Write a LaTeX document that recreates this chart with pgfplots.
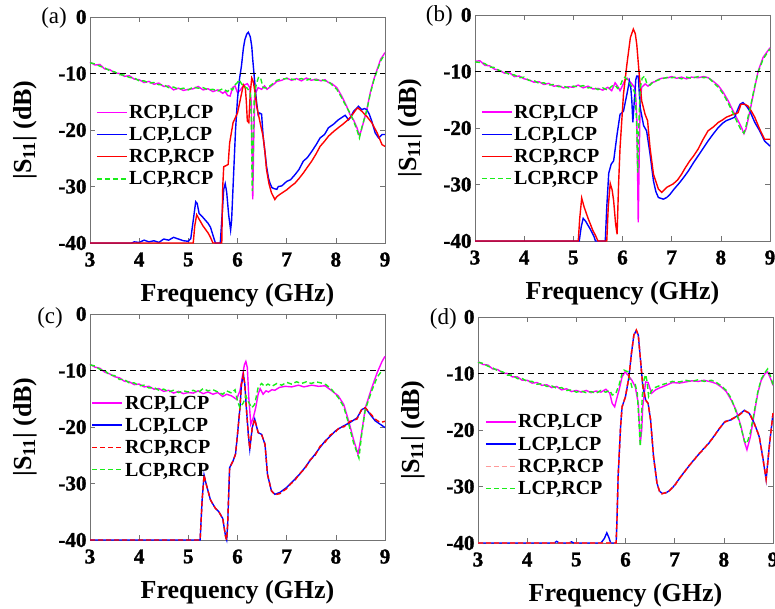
\documentclass[border=0pt]{standalone}
\usepackage{fontspec}
\setmainfont{Liberation Serif}
\newfontfamily\tickbf{Liberation Serif}[FakeBold=1.5]
\usepackage{pgfplots}
\pgfplotsset{compat=1.18}
\definecolor{mygreen}{rgb}{0.1,0.93,0.1}
\definecolor{mymag}{rgb}{1,0,1}
\newcommand{\tk}[1]{{\tickbf\bfseries\fontsize{21}{21}\selectfont #1}}
\tikzset{
 plab/.style={anchor=base east, font=\fontsize{23}{23}\selectfont, inner sep=0pt},
 mag/.style={mymag, line width=1.4pt},
 blu/.style={blue, line width=1.4pt},
 rd/.style={red, line width=1.4pt},
 rdd/.style={red, line width=1.4pt, dash pattern=on 5pt off 3pt},
 rdl/.style={red!40, line width=1.4pt, dash pattern=on 5pt off 3pt},
 grn/.style={mygreen, line width=1.4pt, dash pattern=on 5pt off 3pt},
 refl/.style={black, line width=1.2pt, dash pattern=on 6pt off 4pt},
 legtxt/.style={anchor=west, inner sep=0pt, font=\bfseries\fontsize{20}{20}\selectfont, text height=13.3pt, text depth=0pt},
}
\pgfplotsset{
 panel/.style={
  scale only axis, width=295pt, height=226pt,
  xmin=3,xmax=9,ymin=-40,ymax=0,
  xtick={3,4,5,6,7,8,9},
  xticklabels={\tk{3},\tk{4},\tk{5},\tk{6},\tk{7},\tk{8},\tk{9}},
  ytick={-40,-30,-20,-10,0},
  yticklabels={\tk{-40},\tk{-30},\tk{-20},\tk{-10},\tk{0}},
  tick align=inside, major tick length=5pt,
  axis line style={black!55, line width=0.6pt},
  every tick/.style={black!55, line width=0.6pt},
  ticklabel style={font=\bfseries\fontsize{21}{21}\selectfont},
  xticklabel style={yshift=-6pt},
  xlabel={Frequency (GHz)},
  ylabel={|S\textsubscript{11}| (dB)},
  label style={font=\bfseries\fontsize{26}{26}\selectfont},
  xlabel style={at={(axis description cs:0.5,-0.257)}, anchor=base},
  ylabel style={at={(axis description cs:-0.22,0.5)}, anchor=center},
  clip=false,
  legend cell align=left,
  legend style={draw=none, fill=none, anchor=north west, inner xsep=0pt, inner ysep=0pt, row sep=0pt, column sep=0pt,
    font=\bfseries\fontsize{20}{20}\selectfont,
    nodes={inner xsep=1.5pt, inner ysep=2.1pt, text height=15pt, text depth=3pt}},
  legend image code/.code={\draw[#1] (0pt,0pt) -- (30pt,0pt);},
 },
}
\begin{document}
\begin{tikzpicture}
% ---------------- (a)
\begin{axis}[panel, at={(90pt,366pt)}, anchor=south west,
  legend style={at={(axis description cs:0.02,0.628)}}]
\addplot[mag] coordinates {(3.0,-8.0) (3.1,-8.5) (3.2,-8.4) (3.3,-9.2) (3.4,-9.3) (3.5,-9.9) (3.6,-10.0) (3.7,-10.5) (3.8,-10.4) (3.9,-11.0) (4.0,-11.1) (4.1,-11.6) (4.2,-11.4) (4.3,-11.9) (4.4,-11.7) (4.5,-12.3) (4.6,-12.2) (4.7,-12.9) (4.8,-12.6) (4.9,-13.0) (5.0,-12.8) (5.1,-12.7) (5.2,-12.3) (5.3,-12.9) (5.4,-12.7) (5.5,-13.2) (5.6,-12.9) (5.7,-13.5) (5.75,-13.2) (5.8,-13.9) (5.85,-14.0) (5.9,-12.5) (5.95,-12.2) (6.0,-13.4) (6.05,-13.0) (6.1,-12.4) (6.15,-12.0) (6.2,-11.8) (6.25,-12.5) (6.28,-15.0) (6.30,-25) (6.31,-32.3) (6.33,-22) (6.35,-14.5) (6.37,-13.4) (6.42,-12.5) (6.49,-12.8) (6.55,-12.2) (6.6,-12.8) (6.69,-12.2) (6.75,-11.8) (6.8,-11.4) (6.9,-11.2) (7.0,-10.8) (7.1,-11.2) (7.2,-10.9) (7.3,-11.3) (7.4,-10.8) (7.5,-11.2) (7.6,-11.0) (7.7,-11.3) (7.78,-11.1) (7.85,-11.6) (7.92,-11.8) (8.02,-12.5) (8.12,-14.0) (8.22,-15.8) (8.29,-17.3) (8.36,-18.2) (8.43,-19.6) (8.48,-21.0) (8.52,-20.0) (8.56,-18.7) (8.63,-16.4) (8.7,-13.4) (8.77,-11.1) (8.84,-9.3) (8.91,-7.5) (9.0,-6.3)};
\addlegendentry{RCP,LCP}
\addplot[blu] coordinates {(3.0,-40) (3.85,-40) (3.9,-39.8) (4.0,-39.9) (4.1,-39.5) (4.2,-39.8) (4.3,-39.6) (4.4,-39.9) (4.5,-39.3) (4.6,-39.5) (4.7,-39.0) (4.8,-39.3) (4.9,-39.6) (5.0,-39.7) (5.05,-39.2) (5.1,-36) (5.15,-32.7) (5.18,-33) (5.22,-34.8) (5.3,-35.5) (5.4,-36.5) (5.45,-37.2) (5.5,-38.6) (5.55,-40) (5.65,-40) (5.68,-36) (5.72,-30.5) (5.75,-29.5) (5.78,-31) (5.82,-35) (5.86,-37.7) (5.88,-36) (5.92,-28) (5.96,-20) (6.0,-14.5) (6.04,-11) (6.08,-8.7) (6.12,-5.5) (6.15,-4.0) (6.19,-3.0) (6.22,-2.7) (6.26,-3.5) (6.29,-5.2) (6.31,-7.5) (6.34,-10.5) (6.37,-13.5) (6.39,-15.2) (6.42,-17.3) (6.45,-17.0) (6.49,-17.2) (6.52,-21) (6.56,-24) (6.59,-26.4) (6.63,-28.5) (6.66,-29.4) (6.7,-30.2) (6.75,-30.4) (6.8,-30.5) (6.83,-30.0) (6.9,-29.9) (7.0,-29.1) (7.08,-28.8) (7.17,-27.9) (7.25,-27.0) (7.34,-25.5) (7.42,-24.9) (7.51,-23.8) (7.6,-22.6) (7.68,-21.4) (7.77,-20.8) (7.85,-19.6) (7.95,-19.0) (8.05,-18.2) (8.12,-17.8) (8.19,-17.4) (8.26,-18.2) (8.31,-17.6) (8.36,-16.7) (8.42,-16.2) (8.46,-15.8) (8.53,-16.4) (8.58,-16.2) (8.63,-16.4) (8.68,-17.2) (8.73,-18.4) (8.8,-20.5) (8.87,-21.4) (8.94,-20.8) (9.0,-20.8)};
\addlegendentry{LCP,LCP}
\addplot[rd] coordinates {(3.0,-40) (5.1,-40) (5.13,-37) (5.17,-35.0) (5.22,-35.8) (5.3,-37.0) (5.4,-38.2) (5.45,-39.0) (5.5,-40) (5.68,-40) (5.70,-30) (5.72,-26.5) (5.77,-26.3) (5.81,-26.1) (5.84,-22.3) (5.91,-18.7) (6.0,-17.0) (6.05,-14.9) (6.12,-12.0) (6.16,-12.6) (6.18,-15) (6.2,-18.4) (6.23,-18.7) (6.26,-13.4) (6.29,-10.8) (6.32,-11.4) (6.36,-13.5) (6.39,-15.8) (6.46,-18.7) (6.52,-21.1) (6.56,-24) (6.59,-27.0) (6.64,-29.5) (6.69,-31.1) (6.76,-32.3) (6.8,-31.8) (6.86,-31.4) (6.93,-31.0) (7.0,-30.6) (7.08,-30.0) (7.17,-29.4) (7.25,-28.6) (7.34,-27.6) (7.42,-26.6) (7.51,-25.5) (7.6,-24.2) (7.68,-22.9) (7.77,-22.0) (7.85,-21.1) (7.95,-20.3) (8.05,-19.6) (8.14,-19.0) (8.22,-18.4) (8.3,-17.7) (8.36,-17.0) (8.42,-16.3) (8.45,-16.1) (8.53,-16.7) (8.63,-17.6) (8.73,-18.7) (8.84,-20.5) (8.94,-22.6) (9.0,-22.9)};
\addlegendentry{RCP,RCP}
\addplot[grn] coordinates {(3.0,-8.1) (3.1,-8.3) (3.2,-8.7) (3.3,-9.0) (3.4,-9.5) (3.5,-9.7) (3.6,-10.2) (3.7,-10.3) (3.8,-10.7) (3.9,-10.8) (4.0,-11.3) (4.1,-11.3) (4.2,-11.7) (4.3,-11.6) (4.4,-12.0) (4.5,-12.0) (4.6,-12.5) (4.7,-12.4) (4.8,-12.8) (4.9,-12.6) (5.0,-12.9) (5.1,-12.4) (5.2,-12.6) (5.3,-12.5) (5.4,-12.9) (5.5,-12.8) (5.6,-13.1) (5.7,-12.7) (5.8,-13.2) (5.85,-12.6) (5.9,-12.9) (5.95,-12.0) (6.0,-11.6) (6.03,-11.1) (6.08,-11.8) (6.12,-12.2) (6.2,-12.6) (6.26,-13.5) (6.28,-18) (6.30,-30.8) (6.32,-22) (6.34,-14.5) (6.38,-12.0) (6.43,-10.6) (6.47,-10.8) (6.52,-12.5) (6.6,-12.6) (6.69,-12.0) (6.75,-11.6) (6.8,-11.2) (6.9,-11.0) (7.0,-10.9) (7.1,-11.0) (7.2,-11.1) (7.3,-10.9) (7.4,-11.2) (7.5,-10.9) (7.6,-11.2) (7.7,-11.1) (7.78,-11.3) (7.85,-11.4) (7.92,-12.0) (8.02,-12.8) (8.12,-14.3) (8.22,-16.0) (8.29,-17.0) (8.36,-18.4) (8.43,-20.0) (8.48,-21.4) (8.53,-19.5) (8.58,-18.0) (8.63,-16.5) (8.7,-13.6) (8.77,-11.3) (8.84,-9.5) (8.91,-7.8) (9.0,-6.5)};
\addlegendentry{LCP,RCP}
\addplot[refl, forget plot] coordinates {(3,-10) (9,-10)};
\node[plab] at (rel axis cs:0,1) [xshift=-23pt, yshift=-7pt] {(a)};
\end{axis}
% ---------------- (b)
\begin{axis}[panel, at={(475pt,368pt)}, anchor=south west,
  legend style={at={(axis description cs:0.02,0.62)}}]
\addplot[mag] coordinates {(3.0,-8.2) (3.1,-8.1) (3.2,-8.9) (3.3,-9.0) (3.4,-9.6) (3.5,-9.8) (3.6,-10.3) (3.7,-10.2) (3.8,-10.9) (3.9,-10.8) (4.0,-11.3) (4.1,-11.5) (4.2,-11.9) (4.3,-11.8) (4.4,-12.3) (4.5,-12.1) (4.6,-12.6) (4.7,-12.5) (4.8,-12.9) (4.9,-12.7) (5.0,-12.8) (5.1,-12.4) (5.2,-12.9) (5.3,-12.6) (5.4,-13.1) (5.5,-13.0) (5.6,-13.3) (5.7,-12.8) (5.78,-13.4) (5.85,-12.0) (5.9,-12.6) (5.95,-13.4) (6.0,-12.5) (6.05,-11.5) (6.1,-11.2) (6.15,-11.8) (6.2,-12.3) (6.26,-13.0) (6.29,-18) (6.31,-30) (6.32,-36.7) (6.34,-25) (6.36,-15) (6.39,-12.8) (6.46,-12.2) (6.52,-12.6) (6.59,-12.0) (6.66,-11.8) (6.73,-11.4) (6.8,-11.2) (6.93,-11.1) (7.0,-10.9) (7.1,-11.2) (7.2,-11.0) (7.3,-11.3) (7.4,-11.0) (7.54,-11.1) (7.65,-10.9) (7.74,-11.1) (7.84,-11.7) (7.95,-12.5) (8.05,-13.7) (8.15,-15.2) (8.25,-17.0) (8.35,-18.7) (8.42,-19.9) (8.47,-21.0) (8.51,-20.2) (8.55,-18.7) (8.62,-15.8) (8.69,-12.8) (8.76,-9.9) (8.86,-7.5) (9.0,-5.8)};
\addlegendentry{RCP,LCP}
\addplot[blu] coordinates {(3.0,-40) (5.12,-40) (5.16,-37.5) (5.2,-36.0) (5.25,-36.5) (5.35,-38.0) (5.42,-39.2) (5.45,-40) (5.65,-40) (5.68,-34) (5.72,-28) (5.77,-26.4) (5.82,-25.8) (5.89,-21.1) (5.95,-17.6) (6.02,-17.0) (6.09,-14.0) (6.14,-11.7) (6.17,-13.0) (6.19,-15.2) (6.21,-19.0) (6.24,-15.2) (6.27,-11.5) (6.29,-10.8) (6.32,-10.8) (6.36,-16.4) (6.43,-19.6) (6.49,-20.5) (6.56,-24.6) (6.63,-29.4) (6.68,-31.3) (6.73,-32.3) (6.83,-32.6) (6.9,-32.3) (6.97,-31.7) (7.05,-30.8) (7.14,-29.9) (7.24,-28.8) (7.34,-27.6) (7.44,-26.2) (7.54,-24.9) (7.64,-23.6) (7.74,-22.3) (7.85,-21.0) (7.95,-19.9) (8.03,-19.2) (8.11,-18.7) (8.2,-18.4) (8.28,-18.1) (8.34,-16.8) (8.39,-15.8) (8.45,-15.5) (8.52,-16.1) (8.59,-17.0) (8.69,-19.0) (8.79,-20.5) (8.89,-22.3) (9.0,-23.2)};
\addlegendentry{LCP,LCP}
\addplot[rd] coordinates {(3.0,-40) (5.1,-40) (5.13,-36) (5.17,-32.4) (5.22,-34) (5.3,-36.0) (5.4,-38.2) (5.45,-39.0) (5.5,-40) (5.68,-40) (5.71,-34) (5.75,-29.8) (5.79,-31) (5.82,-32.9) (5.86,-37) (5.89,-38.8) (5.92,-30) (5.95,-23.5) (6.02,-14.0) (6.09,-8.7) (6.16,-4.0) (6.22,-2.5) (6.26,-3.3) (6.29,-5.2) (6.34,-10.5) (6.39,-15.2) (6.46,-17.6) (6.51,-18.7) (6.56,-23.5) (6.63,-28.2) (6.73,-30.8) (6.8,-31.4) (6.9,-30.5) (7.03,-29.9) (7.12,-29.2) (7.2,-28.2) (7.28,-27.0) (7.37,-25.8) (7.45,-24.9) (7.54,-23.7) (7.64,-22.0) (7.74,-20.5) (7.85,-19.8) (7.95,-19.0) (8.03,-18.6) (8.11,-18.1) (8.25,-17.6) (8.35,-17.3) (8.41,-15.8) (8.49,-15.8) (8.55,-16.1) (8.62,-17.0) (8.69,-18.1) (8.79,-20.2) (8.89,-22.0) (9.0,-22.0)};
\addlegendentry{RCP,RCP}
\addplot[grn] coordinates {(3.0,-8.3) (3.1,-8.4) (3.2,-8.6) (3.3,-9.2) (3.4,-9.3) (3.5,-9.9) (3.6,-10.1) (3.7,-10.5) (3.8,-10.6) (3.9,-11.1) (4.0,-11.0) (4.1,-11.6) (4.2,-11.6) (4.3,-12.1) (4.4,-12.0) (4.5,-12.4) (4.6,-12.3) (4.7,-12.7) (4.8,-12.6) (4.9,-12.9) (5.0,-12.6) (5.1,-12.7) (5.2,-12.5) (5.3,-12.9) (5.4,-12.8) (5.5,-13.2) (5.6,-12.9) (5.7,-13.3) (5.78,-12.6) (5.85,-12.4) (5.9,-13.0) (5.95,-12.6) (6.0,-11.5) (6.05,-11.0) (6.1,-11.5) (6.15,-12.2) (6.2,-12.8) (6.26,-14) (6.29,-20) (6.31,-27.9) (6.33,-20) (6.36,-13) (6.4,-11.2) (6.45,-10.8) (6.5,-12.3) (6.56,-12.4) (6.62,-11.9) (6.7,-11.6) (6.8,-11.3) (6.93,-11.0) (7.0,-11.1) (7.1,-11.0) (7.2,-11.3) (7.3,-11.0) (7.4,-11.2) (7.54,-10.9) (7.65,-11.1) (7.74,-11.0) (7.84,-11.9) (7.95,-12.8) (8.05,-14.0) (8.15,-15.6) (8.25,-17.4) (8.35,-19.3) (8.42,-20.5) (8.47,-20.9) (8.51,-19.8) (8.55,-18.2) (8.62,-15.5) (8.69,-12.6) (8.76,-10.1) (8.86,-7.8) (9.0,-6.0)};
\addlegendentry{LCP,RCP}
\addplot[refl, forget plot] coordinates {(3,-10) (9,-10)};
\node[plab] at (rel axis cs:0,1) [xshift=-22pt, yshift=-7pt] {(b)};
\end{axis}
% ---------------- (c)
\begin{axis}[panel, at={(90pt,69pt)}, anchor=south west]
\addplot[mag] coordinates {(3.0,-8.9) (3.1,-9.4) (3.2,-9.6) (3.3,-10.3) (3.4,-10.6) (3.5,-11.1) (3.6,-11.3) (3.7,-11.9) (3.8,-12.0) (3.9,-12.5) (4.0,-12.4) (4.1,-12.9) (4.2,-12.8) (4.3,-13.3) (4.4,-13.2) (4.5,-13.7) (4.6,-13.5) (4.7,-14.0) (4.8,-13.7) (4.9,-14.1) (5.0,-13.9) (5.1,-14.0) (5.2,-13.6) (5.3,-14.1) (5.4,-13.8) (5.5,-14.2) (5.6,-13.9) (5.7,-14.6) (5.78,-14.2) (5.88,-14.5) (5.98,-15.1) (6.05,-13.6) (6.1,-11.0) (6.14,-9.0) (6.17,-8.4) (6.2,-9.5) (6.23,-14.8) (6.27,-19.5) (6.32,-18.4) (6.37,-16.6) (6.42,-14.2) (6.46,-13.2) (6.52,-14.2) (6.58,-13.6) (6.63,-13.8) (6.7,-13.4) (6.76,-13.5) (6.85,-13.0) (6.97,-12.8) (7.1,-12.9) (7.24,-12.6) (7.35,-12.9) (7.51,-12.6) (7.65,-12.8) (7.78,-12.7) (7.92,-13.6) (8.05,-14.5) (8.16,-16.0) (8.26,-18.9) (8.36,-22.2) (8.45,-24.8) (8.49,-23) (8.53,-20.7) (8.6,-16.6) (8.73,-13.1) (8.84,-10.4) (8.94,-8.4) (9.0,-7.5)};
\addplot[blu] coordinates {(3.0,-40) (5.24,-40) (5.28,-33) (5.32,-28.5) (5.36,-30) (5.45,-32.9) (5.55,-34.4) (5.62,-35.0) (5.7,-36.2) (5.76,-39.5) (5.78,-40) (5.8,-37.2) (5.84,-27.2) (5.91,-26.0) (5.96,-24.8) (6.0,-21.3) (6.05,-16.6) (6.08,-12.5) (6.12,-10.7) (6.15,-12.5) (6.18,-16.6) (6.22,-21.3) (6.25,-23.9) (6.3,-20.1) (6.35,-18.6) (6.42,-21.0) (6.49,-21.3) (6.56,-23.1) (6.61,-28.4) (6.69,-31.3) (6.76,-31.9) (6.86,-31.6) (7.0,-30.7) (7.08,-30.0) (7.17,-29.2) (7.27,-28.3) (7.37,-27.2) (7.47,-26.0) (7.58,-24.8) (7.68,-23.6) (7.78,-22.5) (7.89,-21.6) (7.99,-20.7) (8.08,-20.2) (8.16,-19.8) (8.29,-19.2) (8.43,-18.4) (8.53,-16.9) (8.6,-16.6) (8.7,-17.8) (8.8,-18.9) (8.9,-19.5) (9.0,-20.1)};
\addplot[rdd] coordinates {(3.0,-40) (5.24,-40) (5.28,-33) (5.32,-28.5) (5.36,-30) (5.45,-32.9) (5.55,-34.4) (5.62,-35.0) (5.7,-36.2) (5.76,-39.5) (5.78,-40) (5.8,-37.2) (5.84,-27.2) (5.91,-26.0) (5.96,-24.8) (6.0,-21.3) (6.05,-16.6) (6.08,-12.5) (6.12,-10.7) (6.15,-12.5) (6.18,-16.6) (6.22,-21.3) (6.25,-23.9) (6.3,-20.1) (6.35,-18.6) (6.42,-21.0) (6.49,-21.3) (6.56,-23.1) (6.61,-28.4) (6.69,-31.3) (6.76,-32.0) (6.86,-31.8) (7.0,-30.9) (7.08,-30.1) (7.17,-29.4) (7.27,-28.2) (7.37,-27.4) (7.47,-25.9) (7.58,-25.0) (7.68,-23.4) (7.78,-22.7) (7.89,-21.4) (7.99,-20.9) (8.08,-20.0) (8.16,-20.0) (8.29,-19.0) (8.43,-18.6) (8.53,-16.8) (8.6,-16.6) (8.7,-17.6) (8.8,-18.6) (8.9,-19.2) (9.0,-19.0)};
\addplot[grn] coordinates {(3.0,-9.0) (3.1,-9.2) (3.2,-9.8) (3.3,-10.0) (3.4,-10.8) (3.5,-10.9) (3.6,-11.6) (3.7,-11.6) (3.8,-12.2) (3.9,-12.2) (4.0,-12.7) (4.1,-12.6) (4.2,-13.1) (4.3,-13.0) (4.4,-13.5) (4.5,-13.3) (4.6,-13.8) (4.7,-13.5) (4.8,-13.9) (4.9,-13.6) (5.0,-13.8) (5.1,-13.5) (5.2,-13.9) (5.3,-13.2) (5.4,-13.6) (5.5,-13.4) (5.6,-13.8) (5.7,-14.2) (5.78,-13.6) (5.88,-14.0) (5.95,-13.4) (6.0,-15.4) (6.05,-16.6) (6.12,-15.7) (6.17,-14.5) (6.22,-15.5) (6.29,-16.6) (6.35,-16.0) (6.42,-13.0) (6.49,-12.3) (6.55,-12.8) (6.62,-12.4) (6.7,-12.8) (6.8,-12.3) (6.9,-12.6) (7.0,-12.1) (7.1,-12.4) (7.2,-12.0) (7.3,-12.3) (7.4,-12.0) (7.5,-12.3) (7.6,-12.0) (7.7,-12.2) (7.8,-12.5) (7.92,-13.4) (8.05,-14.8) (8.16,-16.4) (8.26,-19.4) (8.36,-22.8) (8.47,-25.5) (8.53,-21.0) (8.6,-16.9) (8.73,-13.6) (8.84,-11.2) (8.94,-10.0) (9.0,-10.0)};
\addplot[refl, forget plot] coordinates {(3,-10) (9,-10)};
\draw[mag] (axis description cs:0.007,0.606) -- (axis description cs:0.108,0.606);
\node[legtxt] at (axis description cs:0.118,0.606) {RCP,LCP};
\draw[blu] (axis description cs:0.007,0.508) -- (axis description cs:0.108,0.508);
\node[legtxt] at (axis description cs:0.118,0.508) {LCP,LCP};
\draw[rdd] (axis description cs:0.007,0.410) -- (axis description cs:0.108,0.410);
\node[legtxt] at (axis description cs:0.118,0.410) {RCP,RCP};
\draw[grn] (axis description cs:0.007,0.312) -- (axis description cs:0.108,0.312);
\node[legtxt] at (axis description cs:0.118,0.312) {LCP,RCP};
\node[plab] at (rel axis cs:0,1) [xshift=-27pt, yshift=-10pt] {(c)};
\end{axis}
% ---------------- (d)
\begin{axis}[panel, at={(478pt,66pt)}, anchor=south west,
  legend style={at={(axis description cs:0.024,0.586)}}]
\addplot[mag] coordinates {(3.0,-7.9) (3.1,-8.4) (3.2,-8.5) (3.3,-9.2) (3.4,-9.3) (3.5,-9.9) (3.6,-10.0) (3.7,-10.6) (3.8,-10.6) (3.9,-11.2) (4.0,-11.2) (4.1,-11.7) (4.2,-11.6) (4.3,-12.1) (4.4,-12.0) (4.5,-12.5) (4.6,-12.3) (4.7,-12.9) (4.8,-12.7) (4.9,-13.2) (5.0,-13.0) (5.1,-13.3) (5.2,-13.0) (5.3,-13.4) (5.4,-13.1) (5.5,-13.3) (5.6,-12.8) (5.68,-13.5) (5.73,-15.3) (5.78,-15.9) (5.82,-14.5) (5.87,-12.9) (5.93,-10.6) (5.99,-9.7) (6.05,-10.3) (6.13,-11.2) (6.2,-12.4) (6.26,-15.3) (6.3,-22.4) (6.33,-20) (6.35,-15.9) (6.41,-11.5) (6.46,-11.6) (6.53,-13.5) (6.61,-12.9) (6.68,-12.6) (6.74,-12.4) (6.85,-12.0) (6.95,-11.6) (7.1,-11.7) (7.22,-11.5) (7.35,-11.3) (7.48,-11.4) (7.6,-11.2) (7.75,-11.5) (7.85,-11.8) (7.95,-12.4) (8.05,-13.2) (8.15,-14.7) (8.25,-16.5) (8.35,-19.4) (8.42,-22.1) (8.47,-23.5) (8.54,-21.2) (8.61,-17.6) (8.69,-13.5) (8.76,-11.2) (8.84,-10.0) (8.89,-9.7) (8.95,-10.9) (9.0,-12.1)};
\addlegendentry{RCP,LCP}
\addplot[blu] coordinates {(3.0,-40) (4.55,-40) (4.6,-39.7) (4.65,-40) (4.85,-40) (4.9,-39.8) (4.95,-40) (5.5,-40) (5.57,-39.2) (5.62,-38.2) (5.66,-39) (5.7,-40) (5.81,-40) (5.83,-35) (5.85,-28.2) (5.9,-19.4) (5.93,-15.9) (6.0,-14.1) (6.07,-10.6) (6.12,-6.5) (6.17,-3.2) (6.22,-2.4) (6.26,-3.2) (6.3,-7.1) (6.35,-12.1) (6.41,-14.7) (6.46,-15.3) (6.51,-18.2) (6.57,-24.7) (6.64,-29.4) (6.69,-30.8) (6.74,-31.2) (6.81,-31.2) (6.88,-30.8) (6.95,-30.3) (7.02,-29.5) (7.08,-28.8) (7.18,-27.6) (7.28,-26.5) (7.38,-25.4) (7.48,-24.4) (7.58,-23.4) (7.69,-22.4) (7.79,-21.2) (7.89,-20.0) (8.02,-18.5) (8.15,-18.2) (8.29,-17.4) (8.42,-16.5) (8.52,-17.1) (8.62,-18.8) (8.72,-21.2) (8.79,-24.7) (8.86,-28.8) (8.93,-22.4) (9.0,-17.1)};
\addlegendentry{LCP,LCP}
\addplot[rdl] coordinates {(3.0,-40) (5.81,-40) (5.83,-35) (5.85,-28.2) (5.9,-19.4) (5.93,-15.9) (6.0,-14.1) (6.07,-10.6) (6.12,-6.5) (6.17,-3.2) (6.22,-2.3) (6.26,-3.2) (6.3,-7.1) (6.35,-12.1) (6.41,-14.7) (6.46,-15.3) (6.51,-18.2) (6.57,-24.7) (6.64,-29.4) (6.69,-30.8) (6.74,-31.3) (6.81,-31.1) (6.88,-30.9) (6.95,-30.2) (7.02,-29.6) (7.08,-28.7) (7.18,-27.7) (7.28,-26.4) (7.38,-25.5) (7.48,-24.3) (7.58,-23.5) (7.69,-22.3) (7.79,-21.3) (7.89,-19.9) (8.02,-18.6) (8.15,-18.1) (8.29,-17.5) (8.42,-16.6) (8.52,-17.0) (8.62,-18.9) (8.72,-21.1) (8.79,-24.8) (8.86,-28.7) (8.93,-22.5) (9.0,-17.0)};
\addlegendentry{RCP,RCP}
\addplot[grn] coordinates {(3.0,-8.0) (3.1,-8.2) (3.2,-8.7) (3.3,-9.0) (3.4,-9.5) (3.5,-9.7) (3.6,-10.3) (3.7,-10.3) (3.8,-10.9) (3.9,-10.9) (4.0,-11.4) (4.1,-11.4) (4.2,-11.9) (4.3,-11.8) (4.4,-12.3) (4.5,-12.2) (4.6,-12.6) (4.7,-12.5) (4.8,-13.0) (4.9,-12.9) (5.0,-13.3) (5.1,-13.1) (5.2,-13.4) (5.3,-13.2) (5.4,-13.5) (5.5,-13.0) (5.6,-13.3) (5.68,-13.0) (5.73,-13.8) (5.8,-13.6) (5.87,-12.0) (5.93,-10.0) (5.97,-9.4) (6.05,-9.7) (6.13,-12.4) (6.2,-12.0) (6.24,-13.5) (6.27,-18) (6.3,-22.9) (6.32,-19) (6.34,-14) (6.38,-11.0) (6.41,-10.2) (6.44,-11.5) (6.47,-14.1) (6.52,-13.2) (6.57,-12.6) (6.65,-12.3) (6.74,-12.0) (6.85,-11.7) (6.95,-11.4) (7.1,-11.5) (7.22,-11.2) (7.35,-11.4) (7.48,-11.1) (7.6,-11.4) (7.75,-11.2) (7.85,-11.6) (7.95,-12.2) (8.05,-13.0) (8.15,-14.4) (8.25,-16.8) (8.35,-19.6) (8.42,-22.0) (8.47,-22.4) (8.54,-20.4) (8.61,-17.2) (8.69,-13.3) (8.76,-11.0) (8.84,-9.8) (8.89,-9.2) (8.95,-10.5) (9.0,-12.0)};
\addlegendentry{LCP,RCP}
\addplot[rdd, forget plot] coordinates {(3.0,-40) (5.81,-40) (5.83,-35) (5.85,-28.2) (5.9,-19.4) (5.93,-15.9) (6.0,-14.1) (6.07,-10.6) (6.12,-6.5) (6.17,-3.2) (6.22,-2.3) (6.26,-3.2) (6.3,-7.1) (6.35,-12.1) (6.41,-14.7) (6.46,-15.3) (6.51,-18.2) (6.57,-24.7) (6.64,-29.4) (6.69,-30.8) (6.74,-31.3) (6.81,-31.1) (6.88,-30.9) (6.95,-30.2) (7.02,-29.6) (7.08,-28.7) (7.18,-27.7) (7.28,-26.4) (7.38,-25.5) (7.48,-24.3) (7.58,-23.5) (7.69,-22.3) (7.79,-21.3) (7.89,-19.9) (8.02,-18.6) (8.15,-18.1) (8.29,-17.5) (8.42,-16.6) (8.52,-17.0) (8.62,-18.9) (8.72,-21.1) (8.79,-24.8) (8.86,-28.7) (8.93,-22.5) (9.0,-17.0)};
\addplot[refl, forget plot] coordinates {(3,-10) (9,-10)};
\node[plab] at (rel axis cs:0,1) [xshift=-21pt, yshift=-8pt] {(d)};
\end{axis}
\pgfresetboundingbox
\useasboundingbox (0pt,0pt) rectangle (775pt,609pt);
\end{tikzpicture}
\end{document}
